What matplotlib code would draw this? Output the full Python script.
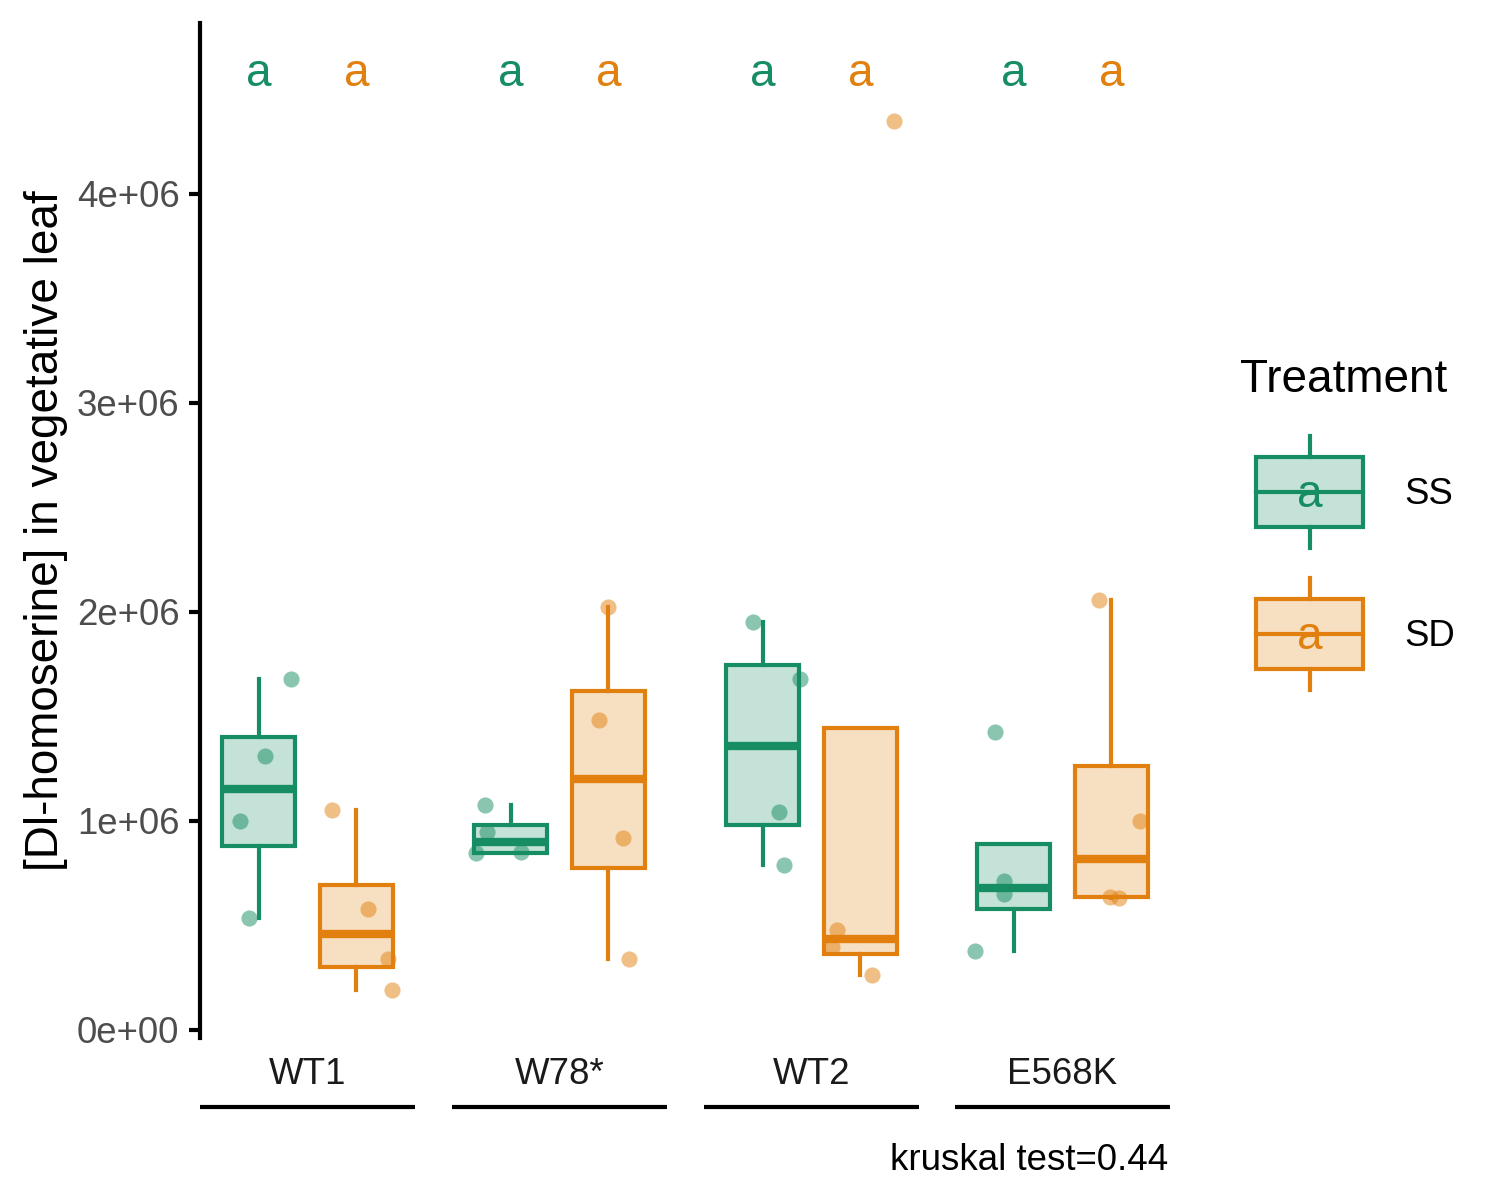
import numpy as np
import matplotlib
matplotlib.use("Agg")
import matplotlib.pyplot as plt
from matplotlib.patches import Rectangle
from matplotlib.colors import to_rgba

plt.rcParams['font.family'] = ['Liberation Sans', 'DejaVu Sans']

# data (values in units of 1e6)
genotypes = ["WT1", "W78*", "WT2", "E568K"]
treatments = ["SS", "SD"]
ss_values = [
    [1.678, 1.308, 0.996, 0.533],
    [1.075, 0.944, 0.843, 0.848],
    [1.953, 1.678, 1.040, 0.790],
    [1.424, 0.711, 0.647, 0.374],
]
sd_values = [
    [1.051, 0.575, 0.337, 0.187],
    [2.023, 1.484, 0.915, 0.340],
    [0.476, 0.393, 0.259, 4.350],
    [2.057, 0.996, 0.634, 0.631],
]
# horizontal jitter of each point (category units)
ss_jitter = [
    [0.33, 0.06, -0.19, -0.10],
    [-0.26, -0.24, -0.35, 0.11],
    [-0.10, 0.38, 0.17, 0.22],
    [-0.19, -0.10, -0.10, -0.40],
]
sd_jitter = [
    [-0.25, 0.12, 0.32, 0.36],
    [0.00, -0.10, 0.15, 0.21],
    [-0.24, -0.29, 0.12, 0.34],
    [-0.13, 0.29, -0.01, 0.08],
]
letters_ss = ["a", "a", "a", "a"]
letters_sd = ["a", "a", "a", "a"]
letter_y = 4.575
caption = "kruskal test=0.44"
ylabel = "[Dl-homoserine] in vegetative leaf"

green = "#168D62"
orange = "#E1800E"
colors = [green, orange]

W, H = 1500, 1200
fig = plt.figure(figsize=(5, 4), dpi=300)

panel_left = [200, 452, 704, 955]
panel_w = 215
ytop, ybot = 23, 1037.7
ylim = (-0.039, 4.818)

for i, g in enumerate(genotypes):
    ax = fig.add_axes([panel_left[i] / W, 1 - ybot / H, panel_w / W, (ybot - ytop) / H])
    ax.patch.set_alpha(0)

    groups = [ss_values[i], sd_values[i]]
    jits = [ss_jitter[i], sd_jitter[i]]
    lets = [letters_ss[i], letters_sd[i]]
    for k in range(2):
        c = colors[k]
        ax.boxplot([groups[k]], positions=[k + 1], widths=0.75, patch_artist=True,
                   showfliers=False, showcaps=False, whis=1.5,
                   boxprops=dict(facecolor=to_rgba(c, 0.25), edgecolor=c, linewidth=1.0),
                   medianprops=dict(color=c, linewidth=2.0, solid_capstyle="butt"),
                   whiskerprops=dict(color=c, linewidth=1.0))
        xs = np.array(jits[k]) + k + 1
        ax.scatter(xs, groups[k], s=15, color=c, alpha=0.5, linewidths=0, zorder=5)
        ax.text(k + 1, letter_y, lets[k], color=c, fontsize=11, ha="center", va="center")

    ax.set_xlim(0.4, 2.6)
    ax.set_ylim(*ylim)
    for s in ["top", "right", "bottom"]:
        ax.spines[s].set_visible(False)
    ax.set_xticks([])
    if i == 0:
        ax.spines["left"].set_linewidth(1.0)
        ax.set_yticks([0, 1, 2, 3, 4])
        ax.set_yticklabels(["0e+00", "1e+06", "2e+06", "3e+06", "4e+06"])
        ax.tick_params(axis="y", length=2.75, width=1.0, pad=2.2,
                       labelsize=8.8, labelcolor="#4D4D4D")
        ax.set_ylabel(ylabel, fontsize=11, labelpad=2)
    else:
        ax.spines["left"].set_visible(False)
        ax.set_yticks([])

# overlay for strip labels, underlines, legend and caption
ov = fig.add_axes([0, 0, 1, 1])
ov.set_xlim(0, W)
ov.set_ylim(H, 0)
ov.axis("off")
ov.patch.set_alpha(0)

for i, g in enumerate(genotypes):
    x0 = panel_left[i]
    ov.text(x0 + panel_w / 2, 1075, g, fontsize=8.8, color="#1A1A1A", ha="center", va="center")
    ov.plot([x0, x0 + panel_w], [1107, 1107], color="black", lw=1.0, solid_capstyle="butt")

ov.text(1168, 1160, caption, fontsize=8.8, ha="right", va="center")

# legend
ov.text(1240, 380, "Treatment", fontsize=11, ha="left", va="center")
key_y = [492, 634]
for k, t in enumerate(treatments):
    c = colors[k]
    yc = key_y[k]
    ov.add_patch(Rectangle((1256, yc - 35), 107, 70, facecolor=to_rgba(c, 0.25),
                           edgecolor=c, linewidth=1.0))
    ov.plot([1256, 1363], [yc, yc], color=c, lw=1.0)
    ov.plot([1310, 1310], [yc - 56, yc - 35], color=c, lw=1.0)
    ov.plot([1310, 1310], [yc + 35, yc + 56], color=c, lw=1.0)
    ov.text(1310, yc + 3, "a", color=c, fontsize=11, ha="center", va="center")
    ov.text(1404, yc + 2, t, fontsize=8.8, ha="left", va="center")

fig.savefig("out.png", dpi=300)
